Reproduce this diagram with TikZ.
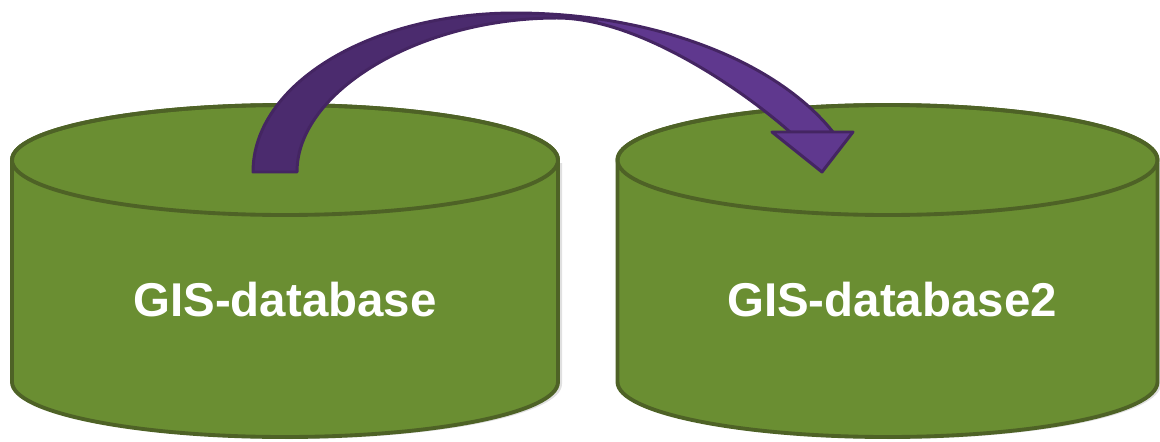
\documentclass[tikz,border=0pt]{standalone}
\usepackage{fontspec}
\setmainfont{Liberation Sans}
\definecolor{dbfill}{RGB}{106,142,50}
\definecolor{dbline}{RGB}{78,98,38}
\definecolor{arrdark}{RGB}{75,43,110}
\definecolor{arrlight}{RGB}{95,56,142}
\definecolor{arrline}{RGB}{68,37,98}
\tikzset{
  dbbody/.style={fill=dbfill, draw=dbline, line width=2.2pt, line join=round},
  dbcap/.style={draw=dbline, line width=2.2pt},
  dbshadow/.style={fill=black, opacity=0.12},
  dblabel/.style={text=white, font=\fontsize{27}{32}\selectfont\bfseries},
  arrowedge/.style={draw=arrline, line width=1.7pt, line join=round},
}
\begin{document}
\begin{tikzpicture}[x=0.02cm,y=0.02cm]
\useasboundingbox (0,0) rectangle (1160,441);
% shadows
\fill[dbshadow] (16,278) -- (16,57) arc[start angle=180,end angle=360,x radius=273,y radius=55] -- (562,278) -- cycle;
\fill[dbshadow] (621,278) -- (621,57) arc[start angle=180,end angle=360,x radius=270,y radius=55] -- (1160,278) -- cycle;
% left cylinder
\path[dbbody] (12,281) -- (12,59) arc[start angle=180,end angle=360,x radius=273,y radius=55] -- (558,281) arc[start angle=0,end angle=180,x radius=273,y radius=55] -- cycle;
\draw[dbcap] (285,281) ellipse[x radius=273,y radius=55];
% right cylinder
\path[dbbody] (617.5,281) -- (617.5,59) arc[start angle=180,end angle=360,x radius=270,y radius=55] -- (1157.5,281) arc[start angle=0,end angle=180,x radius=270,y radius=55] -- cycle;
\draw[dbcap] (887.5,281) ellipse[x radius=270,y radius=55];
% labels
\node[dblabel] (db1) at (285,141) {GIS-database};
\node[dblabel] (db2) at (892,141) {GIS-database2};
% curved block arrow
\coordinate (astart) at (253,269);
\coordinate (atip) at (822,269);
\def\arrowbody{(astart) arc[start angle=180,end angle=90,x radius=262,y radius=159]
  arc[start angle=90,end angle=25.3,x radius=351.8,y radius=208]
  -- (790,309) .. controls (745,349) and (640,423) .. (557,423)
  .. controls (420,423) and (297,350) .. (297,269) -- cycle}
\fill[arrdark] \arrowbody;
\begin{scope}
  \clip \arrowbody;
  \fill[arrlight] (598,300) rectangle (900,441);
\end{scope}
\draw[arrowedge] \arrowbody;
\filldraw[fill=arrlight, arrowedge] (772,309) -- (853,309) -- (atip) -- cycle;
\end{tikzpicture}
\end{document}
